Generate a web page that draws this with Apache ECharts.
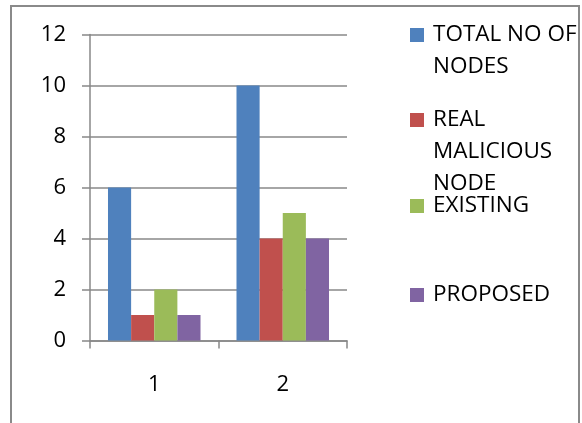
<!DOCTYPE html>
<html>
<head>
<meta charset="utf-8">
<script src="https://cdn.jsdelivr.net/npm/echarts@6/dist/echarts.min.js"></script>
<style>
html,body{margin:0;padding:0;background:#fff;}
#main{width:582px;height:423px;}
</style>
</head>
<body>
<div id="main"></div>
<script>
var categories = ['1', '2'];
var seriesNames = ['TOTAL NO OF NODES', 'REAL MALICIOUS NODE', 'EXISTING', 'PROPOSED'];
var legendLabels = ['TOTAL NO OF\nNODES', 'REAL\nMALICIOUS\nNODE', 'EXISTING', 'PROPOSED'];
var totalNodes = [6, 10];
var realMalicious = [1, 4];
var existing = [2, 5];
var proposed = [1, 4];
var yTicks = { min: 0, max: 12, interval: 2 };

var colors = ['#4F81BD', '#C0504D', '#9BBB59', '#8064A2'];
var values = [totalNodes, realMalicious, existing, proposed];
var iconCenters = [35, 120, 206, 295];
var LH = 32;
var FONT = 'Open Sans';

var legends = seriesNames.map(function (name, i) {
  var lines = legendLabels[i].split('\n');
  var n = lines.length;
  var pad = '';
  for (var k = 1; k < n; k++) pad += ' \n';
  var H = (2 * n - 1) * LH;
  return {
    orient: 'vertical',
    left: 410,
    top: iconCenters[i] - H / 2,
    padding: 0,
    icon: 'rect',
    itemWidth: 14,
    itemHeight: 14,
    data: [name],
    formatter: function () { return pad + legendLabels[i]; },
    textStyle: { fontFamily: FONT, fontSize: 22.5, color: '#000', lineHeight: LH, padding: [0, 0, 0, 4] }
  };
});

var chart = echarts.init(document.getElementById('main'));
chart.setOption({
  animation: false,
  color: colors,
  graphic: [{
    type: 'rect',
    shape: { x: 11, y: 6, width: 568, height: 440 },
    style: { fill: 'none', stroke: '#8a8a8a', lineWidth: 2 },
    z: -10
  }],
  legend: legends,
  grid: { left: 90, right: 235, top: 34.5, bottom: 82.5, outerBoundsMode: 'none' },
  xAxis: {
    type: 'category',
    data: categories,
    axisLine: { show: true, lineStyle: { color: '#888', width: 1.5 } },
    axisTick: { show: true, alignWithLabel: false, length: 8, lineStyle: { color: '#888', width: 1.5 } },
    axisLabel: { fontFamily: FONT, fontSize: 22, color: '#000', margin: 33 }
  },
  yAxis: {
    type: 'value',
    min: yTicks.min, max: yTicks.max, interval: yTicks.interval,
    axisLine: { show: true, lineStyle: { color: '#888', width: 1.5 } },
    axisTick: { show: true, length: 8, lineStyle: { color: '#888', width: 1.5 } },
    splitLine: { show: true, lineStyle: { color: '#888', width: 1.5 } },
    axisLabel: { fontFamily: FONT, fontSize: 22, color: '#000', margin: 24 }
  },
  series: seriesNames.map(function (name, i) {
    return {
      name: name,
      type: 'bar',
      data: values[i],
      barGap: '0%',
      barCategoryGap: '28%',
      itemStyle: { color: colors[i] }
    };
  })
});
</script>
</body>
</html>
